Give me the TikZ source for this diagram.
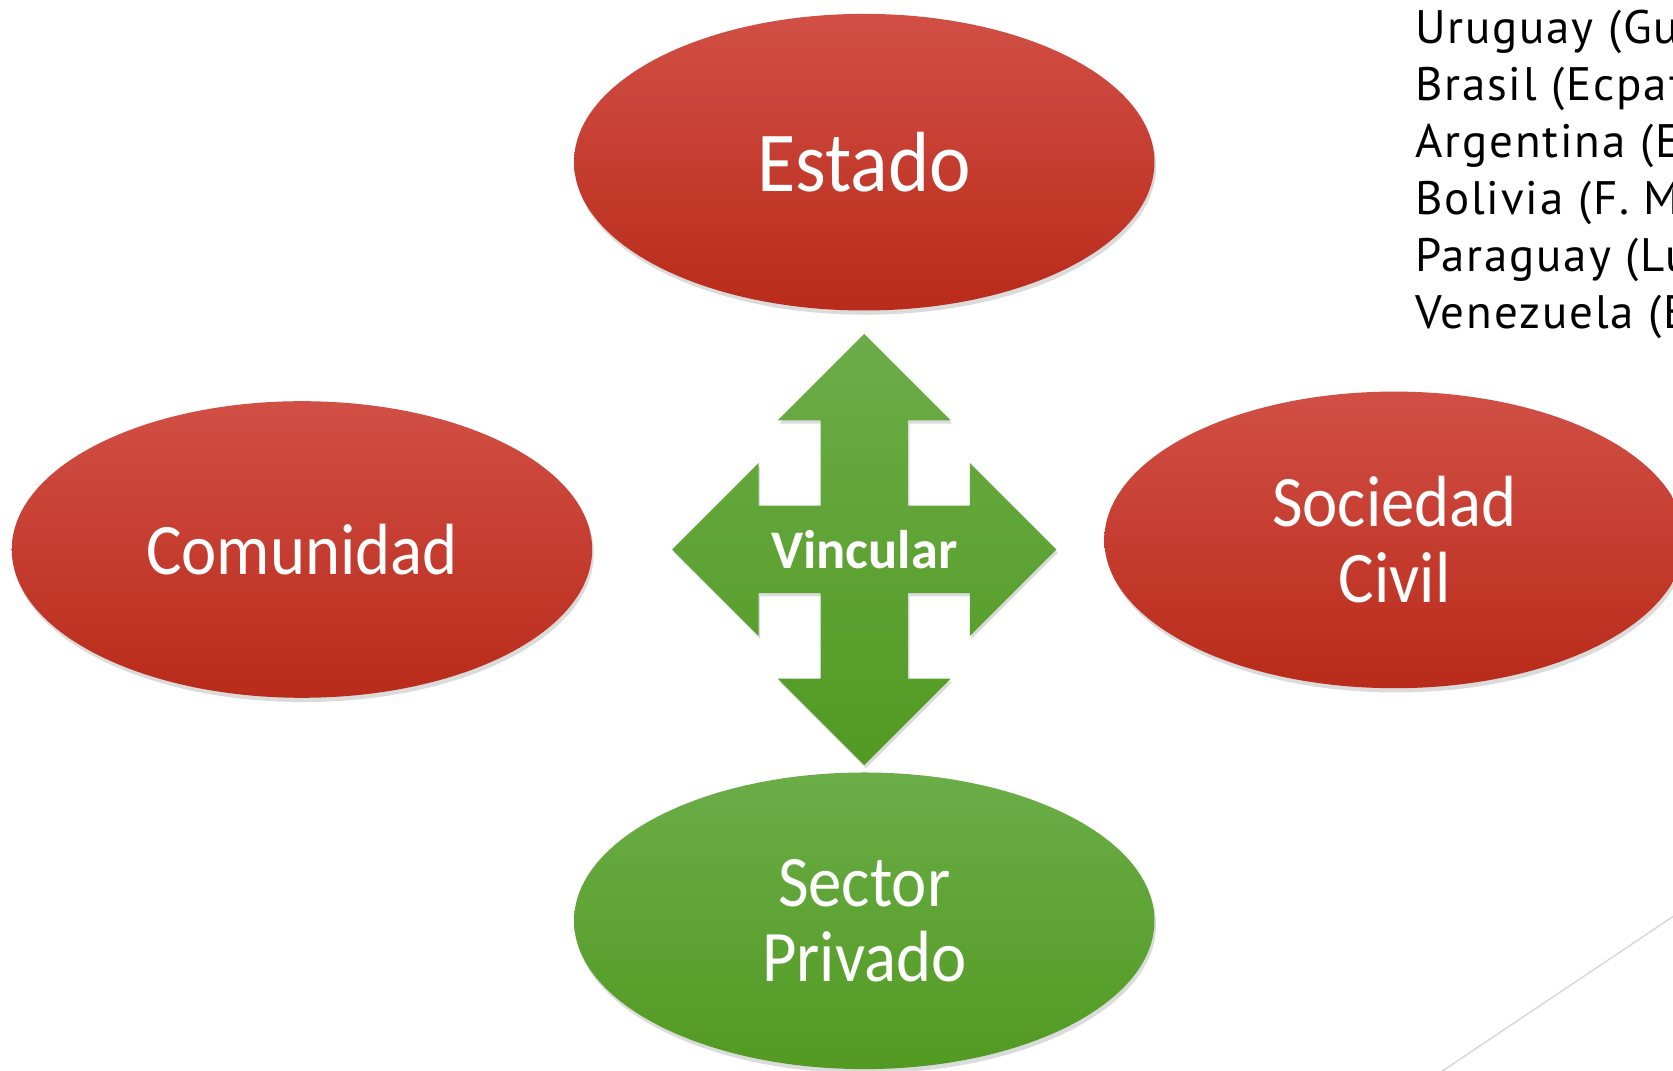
\documentclass[tikz,border=0pt]{standalone}
\usepackage{fontspec}
\usetikzlibrary{shapes.geometric,shadows}
\newfontfamily\ellfont[FakeStretch=0.92]{Carlito}
\newfontfamily\vincfont{Carlito}
\newfontfamily\listfont[LetterSpace=4]{PT Sans}
\definecolor{redtop}{HTML}{D14F45}
\definecolor{redbot}{HTML}{B92B1A}
\definecolor{greentop}{HTML}{6BAD48}
\definecolor{greenbot}{HTML}{529A22}
\definecolor{lineGrey}{HTML}{D9D9D9}
\begin{document}
\begin{tikzpicture}[x=1pt,y=-1pt,
  blob/.style={ellipse, minimum width=544pt, minimum height=278pt, inner sep=0pt,
    text=white, align=center, font=\ellfont\fontsize{68}{71}\selectfont,
    drop shadow={opacity=0.28, shadow xshift=1.5pt, shadow yshift=-4pt}},
  redblob/.style={blob, top color=redtop, bottom color=redbot},
  greenblob/.style={blob, top color=greentop, bottom color=greenbot},
  listtext/.style={anchor=base west, inner sep=0pt, text=black,
    font=\listfont\fontsize{44}{53}\selectfont},
  quadarrow/.style={top color=greentop, bottom color=greenbot,
    drop shadow={opacity=0.28, shadow xshift=1.5pt, shadow yshift=-3pt}}
]
\useasboundingbox (0,0) rectangle (1568,1003);
\clip (0,0) rectangle (1568,1003);
\fill[white] (0,0) rectangle (1568,1003);

% faint diagonal line
\coordinate (lineA) at (1580,851);
\coordinate (lineB) at (1341,1011);
\draw[lineGrey, line width=1.4pt] (lineA) -- (lineB);

% ellipses
\node[redblob] (estado) at (810,152) {\fontsize{80}{84}\selectfont Estado};
\node[redblob] (comunidad) at (283,515) {Comunidad};
\node[redblob] (sociedad) at (1307,506) {Sociedad\\Civil};
\node[greenblob] (sector) at (810,863) {Sector\\Privado};

% four-way arrow
\path[quadarrow]
  (810,313) -- (891,394) -- (851,394) -- (851,474) -- (909,474) -- (909,434)
  -- (990,515) -- (909,596) -- (909,556) -- (851,556) -- (851,636) -- (891,636)
  -- (810,717) -- (729,636) -- (769,636) -- (769,556) -- (711,556) -- (711,596)
  -- (630,515) -- (711,434) -- (711,474) -- (769,474) -- (769,394) -- (729,394)
  -- cycle;
\node[anchor=base, inner sep=0pt, text=white,
  font=\vincfont\bfseries\fontsize{51}{51}\selectfont] (vincular) at (810,533) {Vincular};

% list at the top right
\node[listtext] (l1) at (1326,40.6) {Uruguay (Gu};
\node[listtext] (l2) at (1326,94) {Brasil (Ecpat};
\node[listtext] (l3) at (1326,147.4) {Argentina (E};
\node[listtext] (l4) at (1326,200.8) {Bolivia (F. M};
\node[listtext] (l5) at (1326,254.2) {Paraguay (Lu};
\node[listtext] (l6) at (1326,307.6) {Venezuela (E};
\end{tikzpicture}
\end{document}
